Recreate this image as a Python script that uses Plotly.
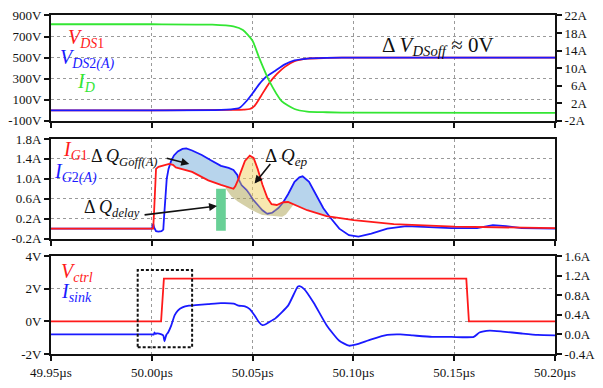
import numpy as np
import plotly.graph_objects as go

# ---------------- Panel 1: V_DS1, V_DS2(A) (V, left) and I_D (A, right) ----------------
t_id = [49.95, 50.00, 50.03, 50.0405, 50.0452, 50.0499, 50.0533, 50.0581, 50.0644, 50.0708, 50.0771, 50.0867, 50.10, 50.20]
i_d = [20.0, 20.0, 19.9, 19.5, 18.7, 16.3, 12.3, 7.2, 2.5, 0.7, 0.1, -0.05, -0.15, -0.2]

t_vds1 = [49.95, 50.00, 50.04, 50.0457, 50.0486, 50.0510, 50.0541, 50.0581, 50.0621, 50.0660, 50.0708, 50.0771, 50.0867, 50.10, 50.20]
v_ds1 = [0, 0, 3, 6, 12, 43, 134, 255, 345, 412, 466, 491, 497, 500, 500]

t_vds2 = [49.95, 50.00, 50.0343, 50.0421, 50.0438, 50.0470, 50.0501, 50.0533, 50.0565, 50.0613, 50.0660, 50.0708, 50.0771, 50.0867, 50.10, 50.20]
v_ds2 = [0, 0, 3, 15, 27, 88, 164, 248, 315, 376, 436, 473, 491, 497, 500, 500]

# ---------------- Panel 2: gate currents ----------------
t_ig1 = [49.95, 50.0007, 50.0012, 50.0017, 50.0021, 50.0033, 50.0048, 50.0067, 50.0086, 50.0105, 50.0119,
         50.0200, 50.0280, 50.0343, 50.0390, 50.0405, 50.0414, 50.0424, 50.0430, 50.0438, 50.0462, 50.0486,
         50.0505, 50.0525, 50.0549, 50.0573, 50.0594, 50.0620, 50.0652, 50.0676, 50.0708, 50.0771, 50.0867,
         50.0882, 50.1002, 50.1200, 50.1501, 50.20]
i_g1 = [0, 0, 0.4, 0.9, 1.2, 1.24, 1.26, 1.27, 1.30, 1.28, 1.23,
        1.14, 0.97, 0.88, 0.82, 0.80, 0.85, 0.93, 1.0, 1.10, 1.36, 1.465,
        1.42, 1.20, 0.88, 0.62, 0.49, 0.475, 0.53, 0.535, 0.475, 0.37, 0.25,
        0.24, 0.17, 0.09, 0.04, 0.01]

t_ig2 = [49.95, 50.0000, 50.0007, 50.0012, 50.0021, 50.0033, 50.0048, 50.0057, 50.0062, 50.0067, 50.0074,
         50.0083, 50.0095, 50.0110, 50.0129, 50.0152, 50.0171, 50.0200, 50.0248, 50.0295, 50.0343, 50.0381,
         50.0405, 50.0424, 50.0430, 50.0446, 50.0470, 50.0486, 50.0501, 50.0525, 50.0549, 50.0573, 50.0597,
         50.0629, 50.0652, 50.0676, 50.0708, 50.0732, 50.0748, 50.0780, 50.0819, 50.0851, 50.0882, 50.0930,
         50.0978, 50.1025, 50.1089, 50.1168, 50.1263, 50.1359, 50.1486, 50.1613, 50.1692, 50.1757, 50.1835, 50.20]
i_g2 = [0, 0, 0.1, 0.02, -0.05, -0.06, -0.05, -0.02, 0.3, 0.7, 1.0,
        1.2, 1.35, 1.47, 1.55, 1.60, 1.61, 1.57, 1.48, 1.37, 1.26, 1.22,
        1.18, 1.08, 1.0, 0.87, 0.78, 0.69, 0.59, 0.48, 0.37, 0.30, 0.32,
        0.42, 0.53, 0.69, 0.94, 1.03, 1.05, 0.94, 0.66, 0.41, 0.24, 0.0,
        -0.13, -0.16, -0.10, 0.0, 0.05, 0.03, 0.01, 0.01, 0.07, 0.05, 0.01, 0.0]

# lower edge of the olive band
t_olive = [50.0367, 50.0400, 50.0462, 50.0524, 50.0557, 50.0652, 50.0676, 50.0705]
olive_low = [0.80, 0.62, 0.45, 0.31, 0.26, 0.24, 0.32, 0.50]

# ΔQ_delay bar
delay_t = [50.0319, 50.0367]
delay_i = [-0.04, 0.80]

# ---------------- Panel 3: V_ctrl (V, left) and I_sink (A, right) ----------------
t_ctrl = [49.95, 50.0046, 50.0060, 50.1560, 50.1573, 50.20]
v_ctrl = [0, 0, 2.63, 2.63, 0, 0]

t_sink = [49.95, 50.0000, 50.0010, 50.0013, 50.0019, 50.0024, 50.0048, 50.0057, 50.0063, 50.0068, 50.0073,
          50.0081, 50.0097, 50.0113, 50.0129, 50.0152, 50.0184, 50.0216, 50.0279, 50.0343, 50.0406, 50.0430,
          50.0462, 50.0486, 50.0510, 50.0530, 50.0549, 50.0565, 50.0581, 50.0613, 50.0676, 50.0724, 50.0733,
          50.0756, 50.0803, 50.0867, 50.0930, 50.0978, 50.1010, 50.1089, 50.1168, 50.1232, 50.1295, 50.1390,
          50.1486, 50.1597, 50.1625, 50.1676, 50.1740, 50.1835, 50.1914, 50.20]
i_sink = [0.0, 0.0, 0.0, 0.04, 0.01, 0.02, 0.0, -0.02, -0.14, -0.06, 0.0,
          0.04, 0.19, 0.39, 0.49, 0.555, 0.59, 0.60, 0.62, 0.64, 0.63, 0.59,
          0.575, 0.52, 0.39, 0.26, 0.19, 0.21, 0.25, 0.33, 0.59, 0.98, 0.99,
          0.93, 0.65, 0.19, -0.13, -0.23, -0.21, -0.10, -0.01, 0.0, -0.02, -0.05,
          -0.05, -0.05, 0.04, 0.08, 0.06, 0.02, -0.01, -0.02]

box_t = [49.993, 50.020]
box_v = [-1.59, 3.16]

# ---------------- ticks ----------------
x_ticks = [49.95, 50.00, 50.05, 50.10, 50.15, 50.20]
x_ticktext = ["49.95µs", "50.00µs", "50.05µs", "50.10µs", "50.15µs", "50.20µs"]
y1_ticks = [-100, 100, 300, 500, 700, 900]
y1_text = ["-100V", "100V", "300V", "500V", "700V", "900V"]
y2_ticks = [-2, 2, 6, 10, 14, 18, 22]
y2_text = ["-2A", "\u20072A", "\u20076A", "10A", "14A", "18A", "22A"]
y3_ticks = [-0.2, 0.2, 0.6, 1.0, 1.4, 1.8]
y3_text = ["-0.2A", "0.2A", "0.6A", "1.0A", "1.4A", "1.8A"]
y4_ticks = [-2, 0, 2, 4]
y4_text = ["-2V", "0V", "2V", "4V"]
y5_ticks = [-0.4, 0.0, 0.4, 0.8, 1.2, 1.6]
y5_text = ["-0.4A", "0.0A", "0.4A", "0.8A", "1.2A", "1.6A"]

RED = "#ff1a1a"
BLUE = "#1a1aff"
GREEN = "#33e633"
FONT = "'Liberation Serif', 'Times New Roman', 'DejaVu Serif', serif"

W, H = 603, 388
ML, MR, MT, MB = 43, 35, 8, 26
PW = W - ML - MR
PB = H - MB  # plot bottom px
PH = PB - MT


def dom(top, bot):
    return [(PB - bot) / PH, (PB - top) / PH]


def px(x):
    return (x - ML) / PW


def py(y):
    return (PB - y) / PH


def band(ta, tb, up_fn, lo_fn, n=300):
    tt = np.linspace(ta, tb, n)
    up, lo = up_fn(tt), lo_fn(tt)
    return np.concatenate([tt, tt[::-1]]), np.concatenate([up, lo[::-1]])


fig = go.Figure()

# Panel 1
fig.add_trace(go.Scatter(x=t_vds1, y=v_ds1, xaxis="x3", yaxis="y", mode="lines",
                         line=dict(color=RED, width=1.8, shape="spline", smoothing=0.6)))
fig.add_trace(go.Scatter(x=t_vds2, y=v_ds2, xaxis="x3", yaxis="y", mode="lines",
                         line=dict(color=BLUE, width=1.8, shape="spline", smoothing=0.6)))
fig.add_trace(go.Scatter(x=t_id, y=i_d, xaxis="x3", yaxis="y2", mode="lines",
                         line=dict(color=GREEN, width=1.8, shape="spline", smoothing=0.6)))

# Panel 2 fills
r_fn = lambda tt: np.interp(tt, t_ig1, i_g1)
b_fn = lambda tt: np.interp(tt, t_ig2, i_g2)

for ta, tb in [(50.008, 50.046), (50.060, 50.092)]:
    bx, by = band(ta, tb, lambda tt: np.maximum(b_fn(tt), r_fn(tt)), r_fn)
    fig.add_trace(go.Scatter(x=bx, y=by, xaxis="x2", yaxis="y3", mode="lines", fill="toself",
                             fillcolor="rgb(183,212,236)", line=dict(width=0), hoverinfo="skip"))

fig.add_trace(go.Scatter(x=t_ig2, y=i_g2, xaxis="x2", yaxis="y3", mode="lines",
                         line=dict(color=BLUE, width=1.8)))

bx, by = band(50.040, 50.068, r_fn, lambda tt: np.minimum(b_fn(tt), r_fn(tt)))
fig.add_trace(go.Scatter(x=bx, y=by, xaxis="x2", yaxis="y3", mode="lines", fill="toself",
                         fillcolor="rgba(241,209,97,0.5)", line=dict(width=0), hoverinfo="skip"))

ol_up = lambda tt: np.minimum(b_fn(tt), r_fn(tt))
bx, by = band(t_olive[0], t_olive[-1], ol_up,
              lambda tt: np.minimum(np.interp(tt, t_olive, olive_low), ol_up(tt)))
fig.add_trace(go.Scatter(x=bx, y=by, xaxis="x2", yaxis="y3", mode="lines", fill="toself",
                         fillcolor="rgba(171,161,79,0.5)", line=dict(width=0), hoverinfo="skip"))

fig.add_trace(go.Scatter(x=[delay_t[0], delay_t[1], delay_t[1], delay_t[0], delay_t[0]],
                         y=[delay_i[0], delay_i[0], delay_i[1], delay_i[1], delay_i[0]],
                         xaxis="x2", yaxis="y3", mode="lines", fill="toself",
                         fillcolor="rgb(104,208,150)", line=dict(width=0), hoverinfo="skip"))

fig.add_trace(go.Scatter(x=t_ig1, y=i_g1, xaxis="x2", yaxis="y3", mode="lines",
                         line=dict(color=RED, width=1.8)))

# Panel 3
fig.add_trace(go.Scatter(x=t_ctrl, y=v_ctrl, xaxis="x", yaxis="y4", mode="lines",
                         line=dict(color=RED, width=1.8)))
fig.add_trace(go.Scatter(x=t_sink, y=i_sink, xaxis="x", yaxis="y5", mode="lines",
                         line=dict(color=BLUE, width=1.8, shape="spline", smoothing=0.5)))

axis_common = dict(showline=True, linecolor="#111", linewidth=2, ticks="outside", ticklen=5,
                   tickwidth=1.5, tickcolor="#111", zeroline=False,
                   tickfont=dict(family=FONT, size=13, color="#111"))
grid = dict(showgrid=True, gridcolor="#9a9a9a", gridwidth=1, griddash="dot")

xbase = dict(range=[49.95, 50.20], tickvals=x_ticks, ticktext=x_ticktext, mirror=True, **axis_common, **grid)

fig.update_layout(
    width=W, height=H,
    margin=dict(l=ML, r=MR, t=MT, b=MB),
    paper_bgcolor="white", plot_bgcolor="white",
    font=dict(family=FONT, size=13, color="#111"),
    showlegend=False,
    xaxis=dict(anchor="y4", domain=[0, 1], showticklabels=True, **xbase),
    xaxis2=dict(anchor="y3", domain=[0, 1], matches="x", showticklabels=False, **xbase),
    xaxis3=dict(anchor="y", domain=[0, 1], matches="x", showticklabels=False, **xbase),
    yaxis=dict(domain=dom(8.5, 118.5), anchor="x3", range=[-100, 900], tickvals=y1_ticks,
               ticktext=y1_text, mirror=True, **axis_common, **grid),
    yaxis2=dict(overlaying="y", side="right", anchor="x3", range=[-2, 22], tickvals=y2_ticks,
                ticktext=y2_text, showgrid=False, **axis_common),
    yaxis3=dict(domain=dom(137.5, 241.5), anchor="x2", range=[-0.2, 1.8], tickvals=y3_ticks,
                ticktext=y3_text, mirror=True, **axis_common, **grid),
    yaxis4=dict(domain=dom(260, 362), anchor="x", range=[-2, 4], tickvals=y4_ticks,
                ticktext=y4_text, mirror=True, **axis_common, **grid),
    yaxis5=dict(overlaying="y4", side="right", anchor="x", range=[-0.4, 1.6], tickvals=y5_ticks,
                ticktext=y5_text, showgrid=False, **axis_common),
)

# dashed box in panel 3
fig.add_shape(type="rect", xref="x", yref="y4", x0=box_t[0], x1=box_t[1], y0=box_v[0], y1=box_v[1],
              line=dict(color="#111", width=2, dash="3px,2px"))


def label(text, x, y, color, size=20, anchor="left"):
    fig.add_annotation(text=text, x=px(x), y=py(y), xref="paper", yref="paper", showarrow=False,
                       xanchor=anchor, yanchor="middle", borderpad=0,
                       font=dict(family=FONT, size=size, color=color))


def arrow(head, tail):
    fig.add_annotation(text="", x=px(head[0]), y=py(head[1]), xref="paper", yref="paper",
                       ax=tail[0] - head[0], ay=tail[1] - head[1], showarrow=True,
                       arrowhead=2, arrowsize=1, arrowwidth=1.6, arrowcolor="#111", standoff=0)


# panel 1 labels
label("<i>V</i><sub><i>DS</i>1</sub>", 60, 33, RED)
label("<i>V</i><sub><i>DS</i>2<i>(A)</i></sub>", 51, 54, BLUE)
label("<i>I</i><sub><i>D</i></sub>", 69, 78, GREEN)
label("Δ <i>V</i><sub><i>DSoff</i></sub> ≈ 0V", 387, 40, "#111", size=21)

# panel 2 labels
label("<i>I</i><sub><i>G</i>1</sub>", 54, 150, RED)
label("<i>I</i><sub><i>G</i>2<i>(A)</i></sub>", 45, 173, BLUE)
label("Δ <i>Q</i><sub><i>Goff(A)</i></sub>", 84, 157, "#111", size=18)
label("Δ <i>Q</i><sub><i>delay</i></sub>", 76, 210, "#111", size=18)
label("Δ <i>Q</i><sub><i>ep</i></sub>", 265, 156, "#111", size=19)
arrow((187, 163.5), (163, 157.5))
arrow((216, 207.5), (142, 216.5))
arrow((255, 184), (272, 163))

# panel 3 labels
label("<i>V</i><sub><i>ctrl</i></sub>", 52, 277, RED)
label("<i>I</i><sub><i>sink</i></sub>", 52, 298, BLUE)

fig.write_html("out.html")
